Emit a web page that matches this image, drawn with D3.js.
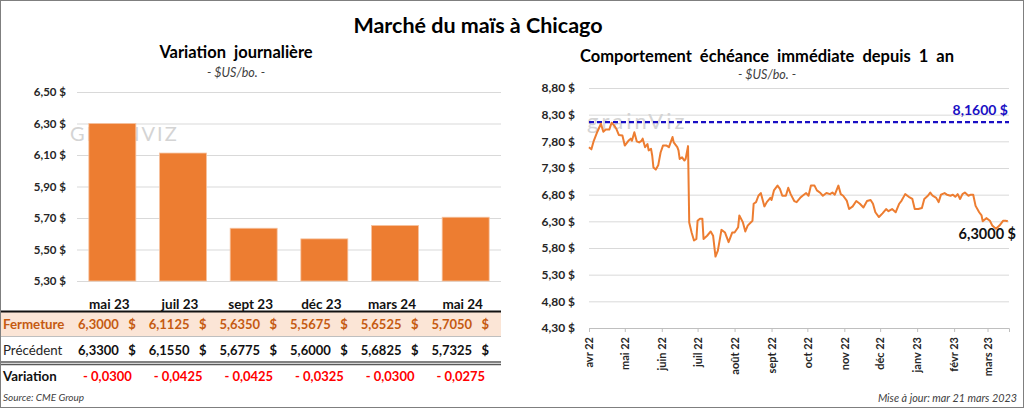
<!DOCTYPE html>
<html>
<head>
<meta charset="utf-8">
<script src="https://cdn.jsdelivr.net/npm/d3@7"></script>
<style>
  html, body { margin: 0; padding: 0; background: #fff; }
  svg { display: block; font-family: Lato, "Noto Sans", sans-serif; }
  .pre { white-space: pre; }
</style>
</head>
<body>
<div id="chart"></div>
<script>
// contrats (panneau gauche)
const contracts = ['mai 23', 'juil 23', 'sept 23', 'déc 23', 'mars 24', 'mai 24'];
const closing = [6.3000, 6.1125, 5.6350, 5.5675, 5.6525, 5.7050];
const previous = [6.3300, 6.1550, 5.6775, 5.6000, 5.6825, 5.7325];
const leftTicks = [5.30, 5.50, 5.70, 5.90, 6.10, 6.30, 6.50];

// échéance immédiate (panneau droit)
const nearbyDates = [
  '2022-04-01','2022-04-03','2022-04-05','2022-04-08','2022-04-11','2022-04-13','2022-04-15','2022-04-18',
  '2022-04-20','2022-04-22','2022-04-24','2022-04-26','2022-04-29','2022-05-01','2022-05-04','2022-05-06',
  '2022-05-07','2022-05-09','2022-05-11','2022-05-13','2022-05-15','2022-05-16','2022-05-18','2022-05-20',
  '2022-05-21','2022-05-23','2022-05-24','2022-05-25','2022-05-27','2022-05-29','2022-05-31','2022-06-02',
  '2022-06-05','2022-06-07','2022-06-10','2022-06-11','2022-06-14','2022-06-15','2022-06-16','2022-06-18',
  '2022-06-20','2022-06-21','2022-06-23','2022-06-24','2022-06-26','2022-06-28','2022-06-30','2022-07-01',
  '2022-07-03','2022-07-05','2022-07-06','2022-07-09','2022-07-12','2022-07-14','2022-07-16','2022-07-18',
  '2022-07-21','2022-07-24','2022-07-27','2022-07-30','2022-08-01','2022-08-04','2022-08-05','2022-08-08',
  '2022-08-10','2022-08-12','2022-08-16','2022-08-17','2022-08-19','2022-08-21','2022-08-23','2022-08-26',
  '2022-08-28','2022-08-31','2022-09-01','2022-09-03','2022-09-06','2022-09-08','2022-09-10','2022-09-13',
  '2022-09-15','2022-09-17','2022-09-20','2022-09-22','2022-09-25','2022-09-27','2022-09-30','2022-10-02',
  '2022-10-04','2022-10-07','2022-10-09','2022-10-12','2022-10-14','2022-10-17','2022-10-20','2022-10-22',
  '2022-10-24','2022-10-27','2022-10-29','2022-10-31','2022-11-03','2022-11-05','2022-11-08','2022-11-11',
  '2022-11-14','2022-11-17','2022-11-20','2022-11-23','2022-11-25','2022-11-27','2022-11-30','2022-12-03',
  '2022-12-06','2022-12-08','2022-12-11','2022-12-14','2022-12-17','2022-12-19','2022-12-22','2022-12-25',
  '2022-12-28','2022-12-30','2023-01-02','2023-01-05','2023-01-07','2023-01-10','2023-01-12','2023-01-14',
  '2023-01-17','2023-01-19','2023-01-21','2023-01-24','2023-01-26','2023-01-29','2023-01-31','2023-02-02',
  '2023-02-04','2023-02-06','2023-02-08','2023-02-10','2023-02-13','2023-02-15','2023-02-17','2023-02-19',
  '2023-02-22','2023-02-24','2023-02-25','2023-02-28','2023-03-03','2023-03-05','2023-03-08','2023-03-11',
  '2023-03-14','2023-03-16','2023-03-18'
];
const nearbyPrices = [
  7.69, 7.65, 7.81, 7.98, 8.13, 7.98, 8.02, 8.02,
  8.15, 8.10, 8.03, 7.92, 7.91, 7.72, 7.81, 7.85,
  7.81, 7.97, 7.80, 7.78, 7.81, 7.85, 7.69, 7.75,
  7.63, 7.66, 7.53, 7.31, 7.27, 7.35, 7.59, 7.72,
  7.72, 7.69, 7.88, 7.78, 7.69, 7.63, 7.47, 7.50,
  7.44, 7.47, 7.71, 6.28, 6.09, 5.94, 5.97, 6.31,
  6.35, 6.35, 5.97, 6.03, 6.11, 6.03, 5.64, 5.75,
  6.14, 6.09, 5.91, 6.09, 6.09, 6.19, 6.41, 6.28,
  6.11, 6.22, 6.31, 6.63, 6.66, 6.78, 6.83, 6.58,
  6.66, 6.74, 6.70, 6.88, 6.97, 6.91, 6.78, 6.78,
  6.93, 6.81, 6.68, 6.66, 6.74, 6.78, 6.83, 6.78,
  6.97, 6.97, 6.88, 6.83, 6.78, 6.83, 6.81, 6.84,
  6.80, 6.97, 6.81, 6.78, 6.69, 6.53, 6.58, 6.68,
  6.63, 6.56, 6.68, 6.70, 6.63, 6.47, 6.38, 6.45,
  6.53, 6.49, 6.53, 6.47, 6.63, 6.69, 6.81, 6.76,
  6.72, 6.53, 6.53, 6.55, 6.72, 6.78, 6.84, 6.78,
  6.74, 6.66, 6.80, 6.83, 6.80, 6.78, 6.80, 6.76,
  6.81, 6.72, 6.81, 6.84, 6.78, 6.80, 6.80, 6.59,
  6.47, 6.41, 6.30, 6.36, 6.31, 6.22, 6.16, 6.22,
  6.31, 6.31, 6.30
];
const rightTicks = [4.30, 4.80, 5.30, 5.80, 6.30, 6.80, 7.30, 7.80, 8.30, 8.80];
const yearHigh = 8.16;
const lastPrice = 6.30;

const W = 1024, H = 408;
const orange = '#ED7D31';
const fr2 = d3.format('.2f'), fr4 = d3.format('.4f');
const comma = s => s.replace('.', ',');

const svg = d3.select('#chart').append('svg')
    .attr('width', W)
    .attr('height', H);

svg.append('rect')
    .attr('x', 0.5).attr('y', 0.5)
    .attr('width', W - 1).attr('height', H - 1)
    .style('fill', '#fff')
    .style('stroke', '#7f7f7f');

svg.append('text')
    .attr('x', 478).attr('y', 33)
    .attr('text-anchor', 'middle')
    .style('font-size', '21.5px').style('font-weight', 'bold')
    .text('Marché du maïs à Chicago');

// ---------- panneau gauche ----------
const xBand = d3.scaleBand()
    .domain(contracts)
    .range([77, 501])
    .paddingInner(0.335)
    .paddingOuter(0.1675);

const yLeft = d3.scaleLinear()
    .domain([5.30, 6.50])
    .range([281, 92]);

svg.append('text')
    .attr('class', 'pre')
    .attr('x', 236).attr('y', 58)
    .attr('text-anchor', 'middle')
    .style('font-size', '16.5px').style('font-weight', 'bold')
    .text('Variation  journalière');

svg.append('text')
    .attr('x', 236).attr('y', 77)
    .attr('text-anchor', 'middle')
    .style('font-size', '12.5px').style('font-style', 'italic').style('fill', '#404040')
    .text('- $US/bo. -');

const leftAxis = svg.append('g')
    .attr('transform', 'translate(77,0)')
    .call(d3.axisLeft(yLeft)
      .tickValues(leftTicks)
      .tickSize(-424)
      .tickPadding(11)
      .tickFormat(d => comma(fr2(d)) + ' $'));
leftAxis.select('.domain').remove();
leftAxis.selectAll('line').style('stroke', '#d9d9d9');
leftAxis.selectAll('text')
    .style('font-family', 'Lato, sans-serif')
    .style('font-size', '11.5px').style('font-weight', 'bold').style('fill', '#262626');

// filigrane
svg.append('text')
    .attr('x', 70).attr('y', 141)
    .style('font-size', '20px').style('fill', '#d4d4d4').style('letter-spacing', '2px')
    .text('GRAINVIZ');

svg.append('g').selectAll('rect')
    .data(contracts)
  .enter().append('rect')
    .attr('x', d => xBand(d))
    .attr('y', (d, i) => yLeft(closing[i]))
    .attr('width', xBand.bandwidth())
    .attr('height', (d, i) => yLeft(5.30) - yLeft(closing[i]))
    .style('fill', orange)
    .style('stroke', '#f6c3a0')
    .style('stroke-width', 0.8);

svg.append('g').selectAll('text')
    .data(contracts)
  .enter().append('text')
    .attr('x', d => xBand(d) + xBand.bandwidth() / 2 - 3)
    .attr('y', 309)
    .attr('text-anchor', 'middle')
    .style('font-size', '13.5px').style('font-weight', 'bold').style('fill', '#111')
    .text(d => d);

// tableau
svg.append('rect')
    .attr('x', 1).attr('y', 312)
    .attr('width', 500).attr('height', 24)
    .style('fill', '#FBE5D6');
svg.append('line')
    .attr('x1', 1).attr('x2', 501).attr('y1', 311.5).attr('y2', 311.5)
    .style('stroke', '#111').style('stroke-width', 2);
svg.append('line')
    .attr('x1', 1).attr('x2', 501).attr('y1', 336.5).attr('y2', 336.5)
    .style('stroke', '#bfbfbf').style('stroke-width', 1);
svg.append('line')
    .attr('x1', 1).attr('x2', 501).attr('y1', 362).attr('y2', 362)
    .style('stroke', '#595959').style('stroke-width', 1.5);
svg.append('line')
    .attr('x1', 1).attr('x2', 501).attr('y1', 364.5).attr('y2', 364.5)
    .style('stroke', '#595959').style('stroke-width', 1.5);

const rows = [
  { label: 'Fermeture', y: 329, color: '#C55A11', labelWeight: 'bold', values: closing, fmt: v => comma(fr4(v)), dollar: true, vcolor: '#C55A11' },
  { label: 'Précédent', y: 355, color: '#262626', labelWeight: 'normal', values: previous, fmt: v => comma(fr4(v)), dollar: true, vcolor: '#111' },
  { label: 'Variation', y: 381, color: '#111', labelWeight: 'bold', values: closing.map((c, i) => c - previous[i]), fmt: v => '- ' + comma(fr4(Math.abs(v))), dollar: false, vcolor: '#FF0000' }
];

rows.forEach(r => {
  const g = svg.append('g');
  g.append('text')
      .attr('x', 3).attr('y', r.y)
      .style('font-size', '13.3px').style('font-weight', r.labelWeight).style('fill', r.color)
      .text(r.label);
  g.selectAll('.val')
      .data(contracts)
    .enter().append('text')
      .attr('class', 'val')
      .attr('x', d => xBand(d) + xBand.bandwidth() - (r.dollar ? 17 : 4))
      .attr('y', r.y)
      .attr('text-anchor', 'end')
      .style('font-size', '13px').style('font-weight', 'bold').style('fill', r.vcolor)
      .text((d, i) => r.fmt(r.values[i]));
  if (r.dollar) {
    g.selectAll('.dol')
        .data(contracts)
      .enter().append('text')
        .attr('class', 'dol')
        .attr('x', d => xBand(d) + xBand.bandwidth())
        .attr('y', r.y)
        .attr('text-anchor', 'end')
        .style('font-size', '13px').style('font-weight', 'bold').style('fill', r.vcolor)
        .text('$');
  }
});

svg.append('text')
    .attr('x', 3).attr('y', 401)
    .style('font-size', '10px').style('font-style', 'italic').style('fill', '#404040')
    .text('Source: CME Group');

// ---------- panneau droit ----------
const parse = d3.timeParse('%Y-%m-%d');
const series = nearbyDates.map((d, i) => ({ date: parse(d), price: nearbyPrices[i] }));

const xTime = d3.scaleTime()
    .domain([parse('2022-04-01'), parse('2023-03-19')])
    .range([589, 1009]);

const yRight = d3.scaleLinear()
    .domain([4.30, 8.80])
    .range([328, 88]);

svg.append('text')
    .attr('class', 'pre')
    .attr('x', 767).attr('y', 62)
    .attr('text-anchor', 'middle')
    .style('font-size', '16.5px').style('font-weight', 'bold')
    .text('Comportement  échéance  immédiate  depuis  1  an');

svg.append('text')
    .attr('x', 767).attr('y', 79)
    .attr('text-anchor', 'middle')
    .style('font-size', '12.5px').style('font-style', 'italic').style('fill', '#404040')
    .text('- $US/bo. -');

const rightAxis = svg.append('g')
    .attr('transform', 'translate(589,0)')
    .call(d3.axisLeft(yRight)
      .tickValues(rightTicks)
      .tickSize(-420)
      .tickPadding(14)
      .tickFormat(d => comma(fr2(d)) + ' $'));
rightAxis.select('.domain').remove();
rightAxis.selectAll('line').style('stroke', '#d9d9d9');
rightAxis.selectAll('text')
    .style('font-family', 'Lato, sans-serif')
    .style('font-size', '12px').style('font-weight', 'bold').style('fill', '#262626');

const months = d3.timeMonth.range(parse('2022-04-01'), parse('2023-03-02'));
const monthNames = ['janv', 'févr', 'mars', 'avr', 'mai', 'juin', 'juil', 'août', 'sept', 'oct', 'nov', 'déc'];

const xAxis = svg.append('g')
    .attr('transform', 'translate(0,328)')
    .call(d3.axisBottom(xTime)
      .tickValues(months)
      .tickSize(4)
      .tickPadding(6)
      .tickFormat(d => monthNames[d.getMonth()] + ' ' + d3.timeFormat('%y')(d)));
xAxis.select('.domain').style('stroke', '#bfbfbf');
xAxis.selectAll('line').style('stroke', '#bfbfbf');
xAxis.selectAll('text')
    .attr('transform', 'rotate(-90)')
    .attr('x', -9).attr('y', 0).attr('dy', '0.35em')
    .attr('text-anchor', 'end')
    .style('font-family', 'Lato, sans-serif')
    .style('font-size', '11px').style('font-weight', 'bold').style('fill', '#262626');

// filigrane
svg.append('text')
    .attr('x', 587).attr('y', 129)
    .style('font-size', '22px').style('fill', '#d4d4d4').style('letter-spacing', '3px')
    .text('grainViz');

svg.append('line')
    .attr('x1', xTime.range()[0]).attr('x2', xTime.range()[1])
    .attr('y1', yRight(yearHigh)).attr('y2', yRight(yearHigh))
    .style('stroke', '#1a0fc4').style('stroke-width', 2.2)
    .style('stroke-dasharray', '5,3');

svg.append('text')
    .attr('x', 1008).attr('y', yRight(yearHigh) - 7)
    .attr('text-anchor', 'end')
    .style('font-size', '14px').style('font-weight', 'bold').style('fill', '#1a0fc4')
    .text(comma(fr4(yearHigh)) + ' $');

const line = d3.line()
    .x(d => xTime(d.date))
    .y(d => yRight(d.price));

svg.append('path')
    .datum(series)
    .attr('d', line)
    .style('fill', 'none')
    .style('stroke', orange)
    .style('stroke-width', 2)
    .style('stroke-linejoin', 'round');

svg.append('text')
    .attr('x', 1016).attr('y', yRight(lastPrice) + 18)
    .attr('text-anchor', 'end')
    .style('font-size', '14.5px').style('font-weight', 'bold').style('fill', '#111')
    .text(comma(fr4(lastPrice)) + ' $');

svg.append('text')
    .attr('x', 1017).attr('y', 402)
    .attr('text-anchor', 'end')
    .style('font-size', '10.8px').style('font-style', 'italic').style('fill', '#404040')
    .text('Mise à jour: mar 21 mars 2023');
</script>
</body>
</html>
